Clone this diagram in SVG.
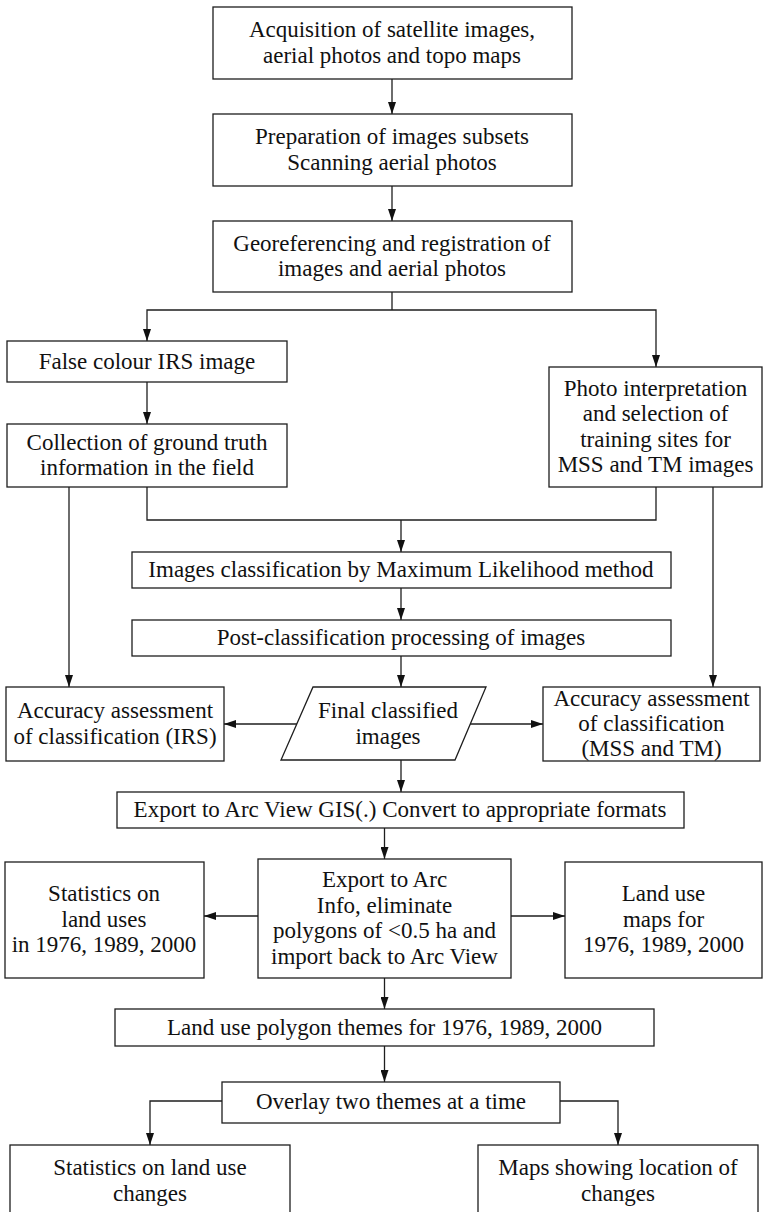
<svg xmlns="http://www.w3.org/2000/svg" width="764" height="1212" viewBox="0 0 764 1212">
<defs>
<style>
.box{fill:#fff;stroke:#1e1e1e;stroke-width:1.3}
.ln{fill:none;stroke:#1e1e1e;stroke-width:1.3}
.ar{fill:none;stroke:#1e1e1e;stroke-width:1.3;marker-end:url(#ah)}
text{font-family:"Liberation Serif","DejaVu Serif",serif;font-size:23px;fill:#111;text-anchor:middle}
</style>
<marker id="ah" viewBox="0 0 12 8" refX="12" refY="4" markerWidth="12" markerHeight="8" markerUnits="userSpaceOnUse" orient="auto">
<path d="M0,0 L12,4 L0,8 z" fill="#111"/>
</marker>
</defs>
<rect width="764" height="1212" fill="#fff"/>

<g id="connectors">
<path class="ar" d="M392,79 V114"/>
<path class="ar" d="M392,186 V221"/>
<path class="ln" d="M392,292 V310"/>
<path class="ar" d="M392,310 H147 V341"/>
<path class="ar" d="M392,310 H656 V367"/>
<path class="ar" d="M147,382 V424"/>
<path class="ln" d="M147,487 V520 H656 V487"/>
<path class="ar" d="M401,520 V552"/>
<path class="ar" d="M69,487 V687"/>
<path class="ar" d="M713,487 V687"/>
<path class="ar" d="M401,588 V620"/>
<path class="ar" d="M401,656 V687"/>
<path class="ar" d="M297,724 H224"/>
<path class="ar" d="M470,724 H543"/>
<path class="ar" d="M401,760 V792"/>
<path class="ar" d="M384.5,828 V859"/>
<path class="ar" d="M258,916 H204"/>
<path class="ar" d="M511,916 H565"/>
<path class="ar" d="M384.5,978 V1009"/>
<path class="ar" d="M384.5,1046 V1082"/>
<path class="ar" d="M222,1101 H150 V1145"/>
<path class="ar" d="M560,1101 H618 V1145"/>
</g>

<g id="n1"><rect class="box" x="213" y="7" width="359" height="72"/>
<text x="392" y="37">Acquisition of satellite images,</text>
<text x="392" y="63">aerial photos and topo maps</text></g>

<g id="n2"><rect class="box" x="213" y="114" width="359" height="72"/>
<text x="392" y="144">Preparation of images subsets</text>
<text x="392" y="170">Scanning aerial photos</text></g>

<g id="n3"><rect class="box" x="213" y="221" width="359" height="71"/>
<text x="392" y="250.5">Georeferencing and registration of</text>
<text x="392" y="276">images and aerial photos</text></g>

<g id="n4"><rect class="box" x="7" y="341" width="280" height="41"/>
<text x="147" y="368.5">False colour IRS image</text></g>

<g id="n5"><rect class="box" x="7" y="424" width="280" height="63"/>
<text x="147" y="449.5">Collection of ground truth</text>
<text x="147" y="475">information in the field</text></g>

<g id="n6"><rect class="box" x="549" y="367" width="213" height="120"/>
<text x="655.5" y="395.5">Photo interpretation</text>
<text x="655.5" y="421">and selection of</text>
<text x="655.5" y="446.5">training sites for</text>
<text x="655.5" y="472">MSS and TM images</text></g>

<g id="n7"><rect class="box" x="132" y="552" width="539" height="36"/>
<text x="401" y="577">Images classification by Maximum Likelihood method</text></g>

<g id="n8"><rect class="box" x="132" y="620" width="539" height="36"/>
<text x="401" y="645">Post-classification processing of images</text></g>

<g id="n9"><polygon class="box" points="313,687 486,687 455,760 281,760"/>
<text x="388" y="718">Final classified</text>
<text x="388" y="743.5">images</text></g>

<g id="n10"><rect class="box" x="6" y="687" width="218" height="74"/>
<text x="115" y="718">Accuracy assessment</text>
<text x="115" y="743.5">of classification (IRS)</text></g>

<g id="n11"><rect class="box" x="543" y="687" width="217" height="74"/>
<text x="651.5" y="705.5">Accuracy assessment</text>
<text x="651.5" y="731">of classification</text>
<text x="651.5" y="756">(MSS and TM)</text></g>

<g id="n12"><rect class="box" x="117" y="792" width="567" height="36"/>
<text x="400" y="817">Export to Arc View GIS(.) Convert to appropriate formats</text></g>

<g id="n13"><rect class="box" x="258" y="859" width="253" height="119"/>
<text x="384.5" y="887">Export to Arc</text>
<text x="384.5" y="912.5">Info, eliminate</text>
<text x="384.5" y="938">polygons of &lt;0.5 ha and</text>
<text x="384.5" y="963.5">import back to Arc View</text></g>

<g id="n14"><rect class="box" x="5" y="862" width="199" height="116"/>
<text x="104" y="901">Statistics on</text>
<text x="104" y="926.5">land uses</text>
<text x="104" y="952">in 1976, 1989, 2000</text></g>

<g id="n15"><rect class="box" x="565" y="862" width="197" height="116"/>
<text x="663.5" y="901">Land use</text>
<text x="663.5" y="926.5">maps for</text>
<text x="663.5" y="952">1976, 1989, 2000</text></g>

<g id="n16"><rect class="box" x="115" y="1009" width="539" height="37"/>
<text x="384.5" y="1034.5">Land use polygon themes for 1976, 1989, 2000</text></g>

<g id="n17"><rect class="box" x="222" y="1082" width="338" height="41"/>
<text x="391" y="1109">Overlay two themes at a time</text></g>

<g id="n18"><rect class="box" x="10" y="1145" width="280" height="70"/>
<text x="150" y="1175">Statistics on land use</text>
<text x="150" y="1200.5">changes</text></g>

<g id="n19"><rect class="box" x="478" y="1145" width="280" height="70"/>
<text x="618" y="1175">Maps showing location of</text>
<text x="618" y="1200.5">changes</text></g>
</svg>
